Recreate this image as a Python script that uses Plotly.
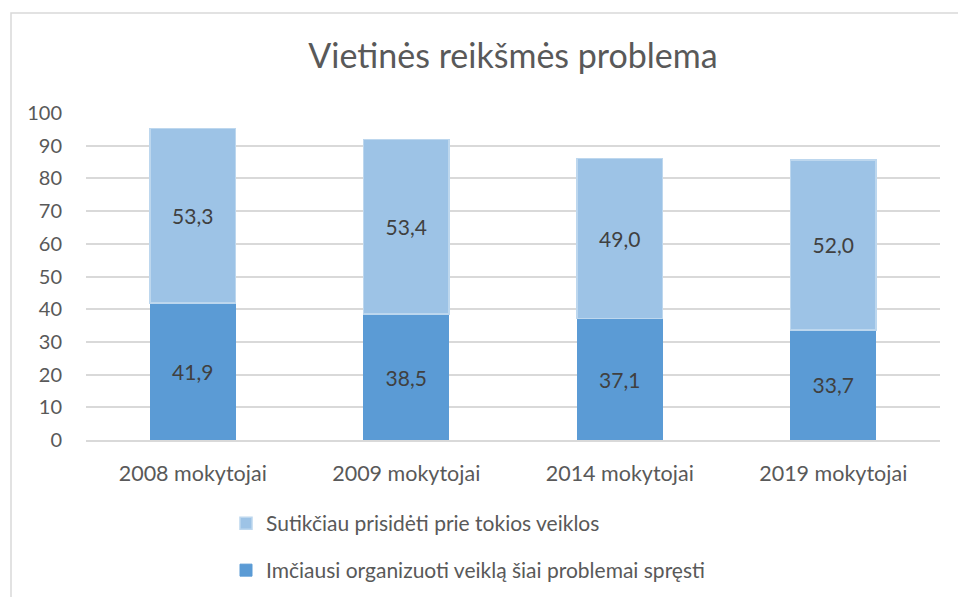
import plotly.graph_objects as go

categories = ["2008 mokytojai", "2009 mokytojai", "2014 mokytojai", "2019 mokytojai"]
organized = [41.9, 38.5, 37.1, 33.7]
joined = [53.3, 53.4, 49.0, 52.0]
name_org = "Imčiausi organizuoti veiklą šiai problemai spręsti"
name_join = "Sutikčiau prisidėti prie tokios veiklos"
y_ticks = list(range(0, 101, 10))

FONT = "Lato, 'Liberation Sans', sans-serif"

def fmt(v):
    return f"{v:.1f}".replace(".", ",")

fig = go.Figure()
fig.add_trace(go.Bar(
    x=categories, y=organized, name=name_org,
    marker=dict(color="#5B9BD5", line=dict(color="#5B9BD5", width=1)),
    text=[fmt(v) for v in organized], textposition="inside",
    insidetextanchor="middle", textangle=0,
    textfont=dict(color="#404040", size=21, family=FONT),
    legend="legend2", hoverinfo="skip",
))
fig.add_trace(go.Bar(
    x=categories, y=joined, name=name_join,
    marker=dict(color="#9DC3E6", line=dict(color="#BDD7EE", width=1.5)),
    text=[fmt(v) for v in joined], textposition="inside",
    insidetextanchor="middle", textangle=0,
    textfont=dict(color="#404040", size=21, family=FONT),
    legend="legend", hoverinfo="skip",
))

W, H = 958, 597
L, R, T, B = 86, 940, 113, 440
pw, ph = R - L, B - T

def px_x(x):
    return (x - L) / pw

def px_y(y):
    return (B - y) / ph

fig.update_layout(
    width=W, height=H,
    barmode="stack", bargap=0.6,
    paper_bgcolor="white", plot_bgcolor="white",
    margin=dict(l=L, r=W - R, t=T, b=H - B, autoexpand=False),
    font=dict(family=FONT, color="#595959", size=20),
    title=dict(text="Vietinės reikšmės problema", x=0.5, xref="paper",
               y=1 - 56 / H, yanchor="middle",
               font=dict(size=34, color="#595959", family=FONT)),
    xaxis=dict(showgrid=False, showline=True, linecolor="#D9D9D9", linewidth=1.5,
               ticks="", tickfont=dict(size=21.5, color="#595959"), ticklabelstandoff=13),
    yaxis=dict(range=[0, 100], tickvals=y_ticks, showgrid=True, gridcolor="#D9D9D9",
               gridwidth=1.5, zeroline=False, showline=False, ticks="",
               tickfont=dict(size=20, color="#595959"), ticklabelstandoff=23),
    legend=dict(x=px_x(226), y=px_y(503), xanchor="left", yanchor="top",
                font=dict(size=21, color="#595959", family=FONT),
                bgcolor="rgba(0,0,0,0)", itemwidth=30),
    legend2=dict(x=px_x(226), y=px_y(550), xanchor="left", yanchor="top",
                 font=dict(size=21, color="#595959", family=FONT),
                 bgcolor="rgba(0,0,0,0)", itemwidth=30),
    showlegend=True,
    uniformtext=dict(mode="show", minsize=10),
)

fig.add_shape(type="rect", xref="paper", yref="paper",
              x0=px_x(11), x1=px_x(975), y0=px_y(615), y1=px_y(13),
              line=dict(color="#D9D9D9", width=1.5), fillcolor="rgba(0,0,0,0)",
              layer="below")

fig.write_html("out.html", config={"displayModeBar": False},
               post_script="document.body.style.margin='0';document.body.style.overflow='hidden';")
